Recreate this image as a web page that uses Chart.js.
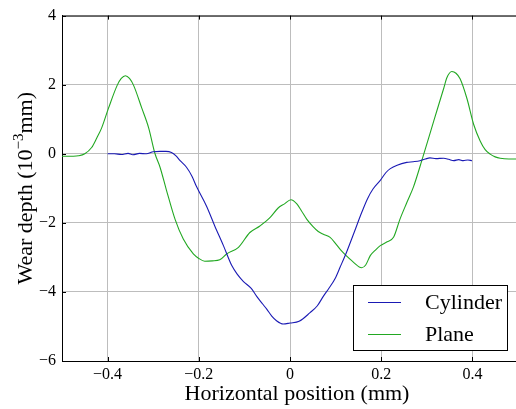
<!DOCTYPE html>
<html>
<head>
<meta charset="utf-8">
<script src="https://cdn.jsdelivr.net/npm/chart.js@4/dist/chart.umd.min.js"></script>
<style>
html,body{margin:0;padding:0;background:#fff;overflow:hidden;width:516px;height:409px;}
#wrap{width:518px;height:409px;}
</style>
</head>
<body>
<div id="wrap"><canvas id="c" width="518" height="409"></canvas></div>
<script>
const seriesNames = ["Cylinder", "Plane"];
const xTicks = [-0.4, -0.2, 0.0, 0.2, 0.4];
const yTicks = [-6, -4, -2, 0, 2, 4];

const cylinderX = [-0.4,-0.385,-0.37,-0.355,-0.345,-0.33,-0.315,-0.3,-0.285,-0.272,-0.26,-0.25,-0.241,-0.227,-0.215,-0.205,-0.183,-0.165,-0.146,-0.128,-0.115,-0.102,-0.085,-0.073,-0.06,-0.051,-0.04,-0.029,-0.015,0,0.02,0.044,0.06,0.073,0.085,0.099,0.11,0.124,0.14,0.157,0.17,0.182,0.198,0.21,0.22,0.235,0.256,0.27,0.285,0.297,0.307,0.32,0.337,0.348,0.359,0.37,0.38,0.39,0.399];
const cylinderY = [0.0,0.0,-0.02,0.01,-0.03,0.01,0.0,0.06,0.07,0.07,0.04,-0.06,-0.2,-0.39,-0.65,-0.95,-1.52,-2.09,-2.66,-3.23,-3.5,-3.7,-3.9,-4.13,-4.35,-4.5,-4.7,-4.84,-4.93,-4.9,-4.85,-4.6,-4.4,-4.13,-3.9,-3.61,-3.28,-2.85,-2.3,-1.71,-1.3,-1.02,-0.77,-0.55,-0.43,-0.33,-0.25,-0.23,-0.2,-0.15,-0.12,-0.14,-0.13,-0.16,-0.2,-0.17,-0.2,-0.18,-0.2];

const planeX = [-0.5,-0.475,-0.464,-0.45,-0.435,-0.424,-0.413,-0.398,-0.379,-0.37,-0.361,-0.352,-0.343,-0.325,-0.31,-0.296,-0.285,-0.271,-0.252,-0.234,-0.212,-0.2,-0.187,-0.17,-0.154,-0.139,-0.113,-0.088,-0.066,-0.044,-0.026,-0.012,0.002,0.015,0.025,0.037,0.05,0.062,0.073,0.088,0.1,0.112,0.124,0.14,0.157,0.166,0.176,0.188,0.198,0.213,0.227,0.241,0.256,0.271,0.289,0.315,0.337,0.344,0.355,0.364,0.373,0.388,0.403,0.417,0.428,0.439,0.45,0.461,0.48,0.5];
const planeY = [-0.07,-0.07,-0.06,0.0,0.18,0.45,0.75,1.32,1.98,2.18,2.26,2.18,1.98,1.32,0.75,0.0,-0.39,-1.05,-1.9,-2.47,-2.9,-3.03,-3.11,-3.1,-3.07,-2.9,-2.71,-2.28,-2.09,-1.85,-1.57,-1.45,-1.33,-1.45,-1.65,-1.9,-2.1,-2.25,-2.33,-2.42,-2.6,-2.8,-2.96,-3.15,-3.3,-3.22,-2.95,-2.78,-2.66,-2.55,-2.42,-1.9,-1.42,-0.95,-0.2,0.94,1.89,2.2,2.38,2.33,2.17,1.6,0.84,0.37,0.12,-0.01,-0.09,-0.13,-0.15,-0.15];

const colors = ["#1a1ab4", "#22a822"];
const fmt = v => (Math.abs(v) < 1e-9 ? (Number.isInteger(v)?"0":"0.0") : String(v)).replace("-", "\u2212");

function pts(xs, ys){ return xs.map((x,i)=>({x:x, y:ys[i]})); }

const SERIF = "'Liberation Serif','DejaVu Serif',serif";

const overlay = {
  id: "overlay",
  afterDraw(chart){
    const ctx = chart.ctx;
    const a = chart.chartArea;
    const xs = chart.scales.x, ys = chart.scales.y;
    ctx.save();
    ctx.strokeStyle = "#000"; ctx.lineWidth = 1;
    ctx.beginPath(); ctx.moveTo(a.left, a.top + 0.5); ctx.lineTo(a.right, a.top + 0.5); ctx.stroke();
    ctx.beginPath();
    xTicks.forEach(v => {
      const px = Math.round(xs.getPixelForValue(v)) + 0.5;
      ctx.moveTo(px, a.bottom); ctx.lineTo(px, a.bottom - 4);
      ctx.moveTo(px, a.top); ctx.lineTo(px, a.top + 4);
    });
    yTicks.forEach(v => {
      const py = Math.round(ys.getPixelForValue(v)) + 0.5;
      ctx.moveTo(a.left, py); ctx.lineTo(a.left + 4, py);
    });
    ctx.stroke();
    const bx = 353.5, by = 285.5, bw = 154, bh = 65;
    ctx.fillStyle = "#fff"; ctx.fillRect(bx, by, bw, bh);
    ctx.strokeStyle = "#000"; ctx.strokeRect(bx, by, bw, bh);
    ctx.font = "22px " + SERIF; ctx.textBaseline = "middle"; ctx.textAlign = "left";
    seriesNames.forEach((n, i) => {
      const y = 302 + i * 32;
      ctx.strokeStyle = colors[i]; ctx.lineWidth = 1;
      ctx.beginPath(); ctx.moveTo(368, y + 0.5); ctx.lineTo(401, y + 0.5); ctx.stroke();
      ctx.fillStyle = "#000"; ctx.fillText(n, 425, y + 1);
    });
    ctx.textAlign = "center"; ctx.textBaseline = "alphabetic";
    ctx.fillText("Horizontal position (mm)", 297, 400);
    ctx.translate(32, (a.top + a.bottom) / 2);
    ctx.rotate(-Math.PI / 2);
    const p1 = "Wear depth (10", p2 = "\u22123", p3 = "mm)";
    ctx.font = "22px " + SERIF; const w1 = ctx.measureText(p1).width, w3 = ctx.measureText(p3).width;
    ctx.font = "15px " + SERIF; const w2 = ctx.measureText(p2).width;
    let x0 = -(w1 + w2 + w3) / 2;
    ctx.textAlign = "left";
    ctx.font = "22px " + SERIF; ctx.fillText(p1, x0, 0);
    ctx.font = "15px " + SERIF; ctx.fillText(p2, x0 + w1, -9);
    ctx.font = "22px " + SERIF; ctx.fillText(p3, x0 + w1 + w2, 0);
    ctx.restore();
  }
};

new Chart(document.getElementById("c"), {
  type: "scatter",
  data: {
    datasets: [
      { label: seriesNames[0], data: pts(cylinderX, cylinderY), showLine: true, borderColor: colors[0], borderWidth: 1.1, pointRadius: 0, cubicInterpolationMode: "monotone", fill: false },
      { label: seriesNames[1], data: pts(planeX, planeY), showLine: true, borderColor: colors[1], borderWidth: 1.1, pointRadius: 0, cubicInterpolationMode: "monotone", fill: false }
    ]
  },
  options: {
    responsive: false,
    animation: false,
    devicePixelRatio: 1,
    layout: { padding: { top: 8, right: 0, left: 0, bottom: 0 } },
    plugins: { legend: { display: false }, tooltip: { enabled: false } },
    scales: {
      x: {
        type: "linear", min: -0.5, max: 0.5,
        afterBuildTicks: s => { s.ticks = xTicks.map(v => ({ value: v })); },
        afterFit: s => { s.height = 48; },
        grid: { color: "#bdbdbd", lineWidth: 1, drawTicks: false },
        border: { color: "#000", width: 1 },
        ticks: { padding: 4, color: "#000", font: { family: SERIF, size: 16 }, callback: v => fmt(v), maxRotation: 0 }
      },
      y: {
        type: "linear", min: -6, max: 4,
        afterBuildTicks: s => { s.ticks = yTicks.map(v => ({ value: v })); },
        afterFit: s => { s.width = 62; },
        grid: { color: "#bdbdbd", lineWidth: 1, drawTicks: false },
        border: { color: "#000", width: 1 },
        ticks: { padding: 6, color: "#000", font: { family: SERIF, size: 16 }, callback: v => fmt(v) }
      }
    }
  },
  plugins: [overlay]
});
</script>
</body>
</html>
